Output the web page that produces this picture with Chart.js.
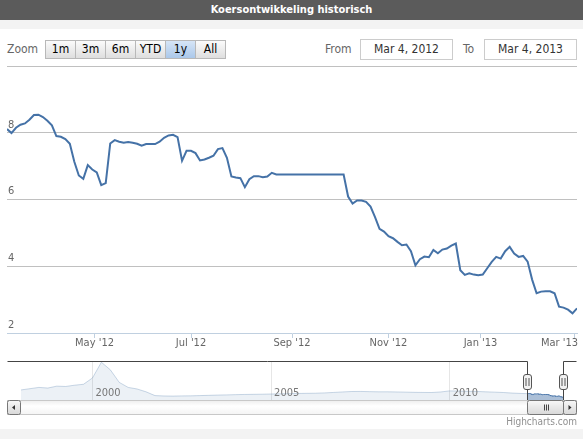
<!DOCTYPE html>
<html>
<head>
<meta charset="utf-8">
<title>Koersontwikkeling historisch</title>
<script src="https://cdn.jsdelivr.net/npm/chart.js@4.4.1/dist/chart.umd.min.js"></script>
<style>
  body {
    margin: 0;
    width: 583px;
    height: 439px;
    position: relative;
    overflow: hidden;
    background: #f3f3f3;
    font-family: "DejaVu Sans Condensed", "DejaVu Sans", sans-serif;
  }
  #title {
    position: absolute; left: 0; top: 0; width: 583px; height: 20px;
    background: #5b5b5b; color: #fff; font-weight: bold; font-size: 11px;
    line-height: 20px; text-align: center;
  }
  #panel { position: absolute; left: 0; top: 29px; width: 583px; height: 400px; background: #fff; }
  .lbl { position: absolute; top: 41px; font-size: 12px; line-height: 16px; color: #666; }
  .btn {
    position: absolute; top: 40px; height: 19px; width: 31px; box-sizing: border-box;
    border: 1px solid #b8b8b8; background: linear-gradient(#fbfbfb, #dedede);
    font-size: 12px; line-height: 17px; text-align: center; color: #000;
  }
  .btn.on { background: linear-gradient(#d6e5f6, #abc8ea); }
  .date {
    position: absolute; top: 39px; height: 21px; width: 93px; box-sizing: border-box;
    border: 1px solid #ccc; background: #fff; font-size: 12px; line-height: 19px;
    text-align: center; color: #333;
  }
  canvas { position: absolute; left: 0; }
  #main { top: 56px; }
  #nav { top: 355px; }
  #credits { position: absolute; right: 6px; top: 416px; font-size: 10px; color: #909090; }
</style>
</head>
<body>
<div id="title">Koersontwikkeling historisch</div>
<div id="panel"></div>
<div class="lbl" style="left:7px">Zoom</div>
<div id="buttons"></div>
<div class="lbl" style="left:325px">From</div>
<div class="date" style="left:360px" id="fromBox"></div>
<div class="lbl" style="left:463px">To</div>
<div class="date" style="left:484px" id="toBox"></div>
<canvas id="main" width="583" height="299"></canvas>
<canvas id="nav" width="583" height="75"></canvas>
<div id="credits">Highcharts.com</div>
<script>
// Range selector
const zoomButtons = ["1m", "3m", "6m", "YTD", "1y", "All"];
const selectedButton = "1y";
const fromLabel = "Mar 4, 2012";
const toLabel = "Mar 4, 2013";

// Calendar of the shown year (Euronext closing days)
const firstDay = "2012-03-04";
const lastDay = "2013-03-04";
const closedDays = ["2012-04-06", "2012-04-09", "2012-05-01", "2012-12-25", "2012-12-26", "2013-01-01"];
const monthNames = ["Jan", "Feb", "Mar", "Apr", "May", "Jun", "Jul", "Aug", "Sep", "Oct", "Nov", "Dec"];

// Closing price, every second trading day
const prices = [
  8.11, 7.99, 8.15, 8.24, 8.28, 8.39, 8.53, 8.54, 8.47, 8.36,
  8.22, 7.90, 7.88, 7.81, 7.67, 7.13, 6.72, 6.62, 7.03, 6.90,
  6.81, 6.43, 6.49, 7.68, 7.78, 7.73, 7.70, 7.72, 7.70, 7.67,
  7.61, 7.66, 7.66, 7.66, 7.73, 7.85, 7.92, 7.94, 7.87, 7.16,
  7.46, 7.46, 7.39, 7.17, 7.20, 7.25, 7.31, 7.51, 7.54, 7.25,
  6.69, 6.66, 6.64, 6.37, 6.61, 6.70, 6.70, 6.67, 6.69, 6.80,
  6.75, 6.75, 6.75, 6.75, 6.75, 6.75, 6.75, 6.75, 6.75, 6.75,
  6.75, 6.75, 6.75, 6.75, 6.75, 6.75, 6.09, 5.88, 5.97, 5.97,
  5.93, 5.79, 5.47, 5.12, 5.04, 4.90, 4.84, 4.73, 4.63, 4.65,
  4.45, 4.03, 4.21, 4.29, 4.27, 4.49, 4.39, 4.50, 4.53, 4.62,
  4.68, 3.88, 3.74, 3.79, 3.75, 3.73, 3.75, 3.94, 4.13, 4.28,
  4.23, 4.45, 4.58, 4.38, 4.28, 4.31, 4.14, 3.60, 3.19, 3.24,
  3.25, 3.25, 3.19, 2.79, 2.76, 2.70, 2.59, 2.74
];

// Navigator: quarterly history from 1998 to 2012
const navStartYear = 1998;
const navHistory = [
  14, 16, 18, 17, 20, 19.5, 21.5, 23, 33, 58,
  46, 26, 18, 15.5, 11, 5, 4.4, 4.2, 4.5, 4.6,
  5, 5.4, 5.8, 6.1, 6.5, 6.8, 7, 7.2, 7.5, 7.8,
  8.1, 8.4, 8.6, 8.8, 9.3, 10, 10.8, 11.5, 11.6, 11.3,
  11, 11, 10.8, 10.5, 10.2, 10, 9.9, 10.8, 12.5, 12.2,
  11.8, 11.6, 11, 10.5, 9.9, 9, 8.4
];
const navYearTicks = [2000, 2005, 2010];
const yTicks = [2, 4, 6, 8, 10];

const FONT = '"DejaVu Sans Condensed", "DejaVu Sans", sans-serif';
Chart.defaults.font.family = FONT;

// Range selector widgets
const btnBox = document.getElementById("buttons");
zoomButtons.forEach((b, i) => {
  const el = document.createElement("div");
  el.className = "btn" + (b === selectedButton ? " on" : "");
  el.style.left = (45 + i * 30) + "px";
  el.textContent = b;
  btnBox.appendChild(el);
});
document.getElementById("fromBox").textContent = fromLabel;
document.getElementById("toBox").textContent = toLabel;

// Trading days
function tradingDays(from, to) {
  const out = [];
  const end = new Date(to + "T00:00:00Z");
  for (let d = new Date(from + "T00:00:00Z"); d <= end; d.setUTCDate(d.getUTCDate() + 1)) {
    const wd = d.getUTCDay();
    const iso = d.toISOString().slice(0, 10);
    if (wd !== 0 && wd !== 6 && !closedDays.includes(iso)) out.push(new Date(d));
  }
  return out;
}
const days = tradingDays(firstDay, lastDay);

const monthTicks = [];
days.forEach((d, i) => {
  const m = d.getUTCMonth();
  if (i > 0 && m !== days[i - 1].getUTCMonth() && m % 2 === 0) {
    monthTicks.push({ value: i, label: monthNames[m] + " '" + String(d.getUTCFullYear()).slice(2) });
  }
});

const toYear = d => {
  const y = d.getUTCFullYear();
  const s = Date.UTC(y, 0, 1), e = Date.UTC(y + 1, 0, 1);
  return y + (d - s) / (e - s);
};

const mainData = prices.map((p, k) => ({ x: 2 * k, y: p }));
const navSel = prices.map((p, k) => ({ x: toYear(days[2 * k]), y: p }));
const navHist = navHistory.map((v, i) => ({ x: navStartYear + i / 4, y: v })).concat([navSel[0]]);

// x labels drawn so that the last one stays inside, like Highcharts does
const monthLabels = {
  id: "monthLabels",
  afterDraw(chart) {
    const { ctx, chartArea, scales: { x } } = chart;
    ctx.save();
    ctx.font = "11px " + FONT;
    ctx.fillStyle = "#666";
    ctx.textAlign = "center";
    ctx.textBaseline = "middle";
    monthTicks.forEach(t => {
      const w = ctx.measureText(t.label).width;
      const px = Math.min(x.getPixelForValue(t.value), chart.width - 5 - w / 2);
      ctx.fillText(t.label, px, chartArea.bottom + 10);
    });
    ctx.restore();
  }
};

new Chart(document.getElementById("main"), {
  type: "line",
  data: {
    datasets: [{
      data: mainData,
      borderColor: "#4572A7",
      borderWidth: 2,
      pointRadius: 0,
      tension: 0,
      fill: false
    }]
  },
  options: {
    responsive: false,
    animation: false,
    layout: { padding: { left: 7, right: 6, top: 10, bottom: 0 } },
    plugins: { legend: { display: false }, tooltip: { enabled: false } },
    scales: {
      x: {
        type: "linear",
        min: 0,
        max: days.length - 1,
        border: { color: "#C0D0E0" },
        grid: { drawOnChartArea: false, tickLength: 5, color: "#C0D0E0" },
        ticks: { display: false },
        afterBuildTicks: s => { s.ticks = monthTicks.map(t => ({ value: t.value })); },
        afterFit: s => { s.height = 22; s.paddingLeft = 0; s.paddingRight = 0; }
      },
      y: {
        min: yTicks[0],
        max: yTicks[yTicks.length - 1],
        border: { display: false },
        grid: {
          drawTicks: false,
          color: ctx => ctx.tick && ctx.tick.value === yTicks[0] ? "rgba(0,0,0,0)" : "#C0C0C0"
        },
        ticks: {
          mirror: true,
          padding: 1,
          labelOffset: -8,
          color: "#666",
          font: { size: 11 },
          callback: v => v === yTicks[yTicks.length - 1] ? "" : v
        },
        afterBuildTicks: s => { s.ticks = yTicks.map(v => ({ value: v })); },
        afterFit: s => { s.width = 0; s.paddingTop = 0; s.paddingBottom = 0; }
      }
    }
  },
  plugins: [monthLabels]
});

function boxPath(ctx, x, y, w, h, r) {
  ctx.beginPath();
  ctx.moveTo(x + r, y);
  ctx.lineTo(x + w - r, y);
  ctx.quadraticCurveTo(x + w, y, x + w, y + r);
  ctx.lineTo(x + w, y + h - r);
  ctx.quadraticCurveTo(x + w, y + h, x + w - r, y + h);
  ctx.lineTo(x + r, y + h);
  ctx.quadraticCurveTo(x, y + h, x, y + h - r);
  ctx.lineTo(x, y + r);
  ctx.quadraticCurveTo(x, y, x + r, y);
  ctx.closePath();
}

// Navigator outline, handles, year labels and scrollbar
const navigatorDecor = {
  id: "navigatorDecor",
  afterDraw(chart) {
    const { ctx, chartArea: a, scales: { x } } = chart;
    const x1 = Math.round(x.getPixelForValue(navSel[0].x)) + 0.5;
    const x2 = Math.round(x.getPixelForValue(navSel[navSel.length - 1].x)) + 0.5;
    const left = 7.5, right = 576.5;
    const top = a.top + 0.5;
    ctx.save();

    ctx.font = "11px " + FONT;
    ctx.fillStyle = "#777";
    ctx.textAlign = "left";
    ctx.textBaseline = "alphabetic";
    navYearTicks.forEach(yr => ctx.fillText(String(yr), x.getPixelForValue(yr) + 3, a.bottom - 4));

    ctx.strokeStyle = "#444";
    ctx.lineWidth = 1;
    ctx.beginPath();
    ctx.moveTo(left, top); ctx.lineTo(x1, top); ctx.lineTo(x1, a.bottom);
    ctx.moveTo(x2, a.bottom); ctx.lineTo(x2, top); ctx.lineTo(right, top);
    ctx.stroke();

    [x1, x2].forEach(hx => {
      boxPath(ctx, hx - 4, a.top + 13.5, 8, 15, 2.5);
      ctx.fillStyle = "#f2f2f2";
      ctx.fill();
      ctx.strokeStyle = "#555";
      ctx.stroke();
      ctx.beginPath();
      ctx.moveTo(hx - 1.5, a.top + 17); ctx.lineTo(hx - 1.5, a.top + 25);
      ctx.moveTo(hx + 1.5, a.top + 17); ctx.lineTo(hx + 1.5, a.top + 25);
      ctx.stroke();
    });

    // scrollbar
    const sy = a.bottom + 0.5, sh = 14;
    const grad = () => {
      const g = ctx.createLinearGradient(0, sy, 0, sy + sh);
      g.addColorStop(0, "#f8f8f8");
      g.addColorStop(1, "#d8d8d8");
      return g;
    };
    const track = ctx.createLinearGradient(0, sy, 0, sy + sh);
    track.addColorStop(0, "#eeeeee");
    track.addColorStop(0.4, "#ffffff");
    track.addColorStop(1, "#f4f4f4");
    ctx.fillStyle = track;
    ctx.fillRect(left, sy, right - left, sh);
    ctx.strokeStyle = "#c8c8c8";
    ctx.strokeRect(left, sy, right - left, sh);

    const buttons = [[left, 13], [x2, right - x2], [x1, x2 - x1]];
    buttons.forEach(([bx, bw]) => {
      boxPath(ctx, bx, sy, bw, sh, 2);
      ctx.fillStyle = grad();
      ctx.fill();
      ctx.strokeStyle = "#777";
      ctx.stroke();
    });

    ctx.fillStyle = "#333";
    ctx.beginPath();
    ctx.moveTo(left + 4.5, sy + 7); ctx.lineTo(left + 7.5, sy + 4.5); ctx.lineTo(left + 7.5, sy + 9.5);
    ctx.closePath(); ctx.fill();
    ctx.beginPath();
    ctx.moveTo(right - 5, sy + 7); ctx.lineTo(right - 8, sy + 4.5); ctx.lineTo(right - 8, sy + 9.5);
    ctx.closePath(); ctx.fill();

    ctx.strokeStyle = "#444";
    const mid = Math.round((x1 + x2) / 2) + 0.5;
    ctx.beginPath();
    [-2, 0, 2].forEach(o => { ctx.moveTo(mid + o, sy + 4); ctx.lineTo(mid + o, sy + 10); });
    ctx.stroke();

    ctx.restore();
  }
};

new Chart(document.getElementById("nav"), {
  type: "line",
  data: {
    datasets: [
      {
        data: navHist,
        borderColor: "rgba(69,114,167,0.28)",
        backgroundColor: "rgba(69,114,167,0.10)",
        borderWidth: 1,
        pointRadius: 0,
        fill: "start"
      },
      {
        data: navSel,
        borderColor: "#4572A7",
        backgroundColor: "rgba(69,114,167,0.45)",
        borderWidth: 1,
        pointRadius: 0,
        fill: "start"
      }
    ]
  },
  options: {
    responsive: false,
    animation: false,
    layout: { padding: { left: 21, right: 20, top: 6, bottom: 30 } },
    plugins: { legend: { display: false }, tooltip: { enabled: false } },
    scales: {
      x: {
        type: "linear",
        min: navStartYear,
        max: navSel[navSel.length - 1].x,
        border: { display: false },
        grid: { drawTicks: false, color: "#e6e6e6" },
        ticks: { display: false },
        afterBuildTicks: s => { s.ticks = navYearTicks.map(v => ({ value: v })); },
        afterFit: s => { s.height = 0; s.paddingLeft = 0; s.paddingRight = 0; }
      },
      y: { display: false, min: -2, max: 60 }
    }
  },
  plugins: [navigatorDecor]
});
</script>
</body>
</html>
